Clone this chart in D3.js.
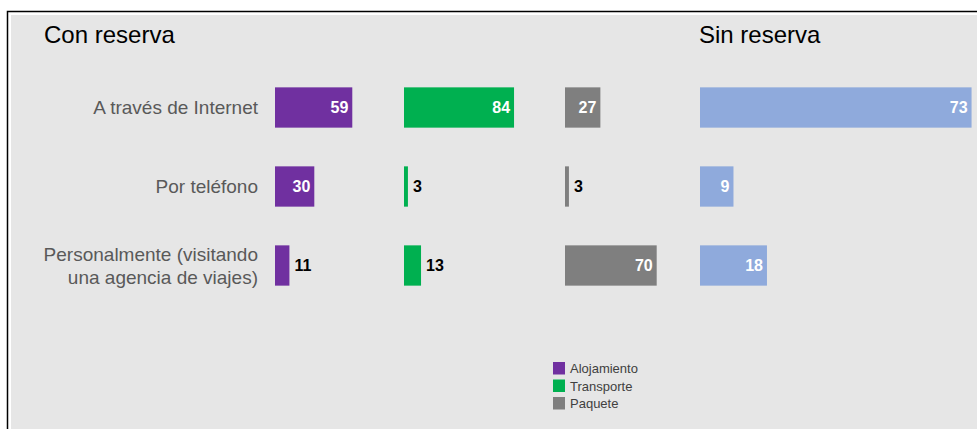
<!DOCTYPE html>
<html>
<head>
<meta charset="utf-8">
<script src="https://cdn.jsdelivr.net/npm/d3@7"></script>
<style>
  body { margin: 0; background: #fff; }
  svg { display: block; font-family: "Liberation Sans", Arial, sans-serif; }
</style>
</head>
<body>
<svg id="chart"></svg>
<script>
const width = 977;
const height = 429;

// data
const categories = ['A través de Internet', 'Por teléfono', 'Personalmente (visitando una agencia de viajes)'];
const categoryLines = [['A través de Internet'], ['Por teléfono'], ['Personalmente (visitando', 'una agencia de viajes)']];
const alojamiento = [59, 30, 11];
const transporte = [84, 3, 13];
const paquete = [27, 3, 70];
const sinReserva = [73, 9, 18];
const legendLabels = ['Alojamiento', 'Transporte', 'Paquete'];

const series = [
  { name: 'Alojamiento', values: alojamiento, color: '#7030a0', x0: 275, scale: 'con' },
  { name: 'Transporte', values: transporte, color: '#00b050', x0: 404, scale: 'con' },
  { name: 'Paquete', values: paquete, color: '#7f7f7f', x0: 565, scale: 'con' },
  { name: 'Sin reserva', values: sinReserva, color: '#8faadc', x0: 700, scale: 'sin' }
];
const legendColors = ['#7030a0', '#00b050', '#7f7f7f'];

const svg = d3.select('#chart')
  .attr('width', width)
  .attr('height', height);

// frame
svg.append('rect')
  .attr('x', 7.5).attr('y', 11.5)
  .attr('width', width).attr('height', height)
  .attr('fill', '#fff')
  .attr('stroke', '#000')
  .attr('stroke-width', 1.5);
svg.append('rect')
  .attr('x', 11).attr('y', 15)
  .attr('width', width).attr('height', height)
  .attr('fill', '#e6e6e6');

const xCon = d3.scaleLinear().domain([0, 100]).range([0, 131]);
const xSin = d3.scaleLinear().domain([0, 100]).range([0, 372]);

const y = d3.scaleBand()
  .domain(categories)
  .range([68, 305])
  .paddingInner(0.49)
  .paddingOuter(0.245);

// titles
svg.append('text')
  .attr('x', 44).attr('y', 43)
  .attr('font-size', 24)
  .attr('fill', '#000')
  .text('Con reserva');
svg.append('text')
  .attr('x', 699).attr('y', 43)
  .attr('font-size', 24)
  .attr('fill', '#000')
  .text('Sin reserva');

// category labels
const catG = svg.append('g');
categories.forEach((c, i) => {
  const lines = categoryLines[i];
  const cy = y(c) + y.bandwidth() / 2;
  const lh = 23;
  const t = catG.append('text')
    .attr('text-anchor', 'end')
    .attr('font-size', 19)
    .attr('fill', '#595959');
  lines.forEach((l, j) => {
    t.append('tspan')
      .attr('x', 258)
      .attr('y', cy + (j - (lines.length - 1) / 2) * lh)
      .attr('dy', '0.35em')
      .text(l);
  });
});

// bars
series.forEach((s) => {
  const sc = s.scale === 'con' ? xCon : xSin;
  const g = svg.append('g').attr('transform', `translate(${s.x0},0)`);
  g.selectAll('rect')
    .data(s.values)
    .enter()
    .append('rect')
    .attr('x', 0)
    .attr('y', (d, i) => y(categories[i]))
    .attr('width', (d) => sc(d))
    .attr('height', y.bandwidth())
    .attr('fill', s.color);

  g.selectAll('text')
    .data(s.values)
    .enter()
    .append('text')
    .attr('font-size', 16)
    .attr('font-weight', 'bold')
    .attr('dy', '0.35em')
    .attr('y', (d, i) => y(categories[i]) + y.bandwidth() / 2)
    .attr('x', (d) => sc(d) > 25 ? sc(d) - 4 : sc(d) + 5)
    .attr('text-anchor', (d) => sc(d) > 25 ? 'end' : 'start')
    .attr('fill', (d) => sc(d) > 25 ? '#fff' : '#000')
    .text((d) => d);
});

// legend
const legend = svg.append('g').attr('transform', 'translate(553,362)');
legendLabels.forEach((l, i) => {
  legend.append('rect')
    .attr('x', 0).attr('y', i * 17.5)
    .attr('width', 12).attr('height', 12.5)
    .attr('fill', legendColors[i]);
  legend.append('text')
    .attr('x', 17).attr('y', i * 17.5 + 6.5)
    .attr('dy', '0.35em')
    .attr('font-size', 13)
    .attr('fill', '#404040')
    .text(l);
});
</script>
</body>
</html>
